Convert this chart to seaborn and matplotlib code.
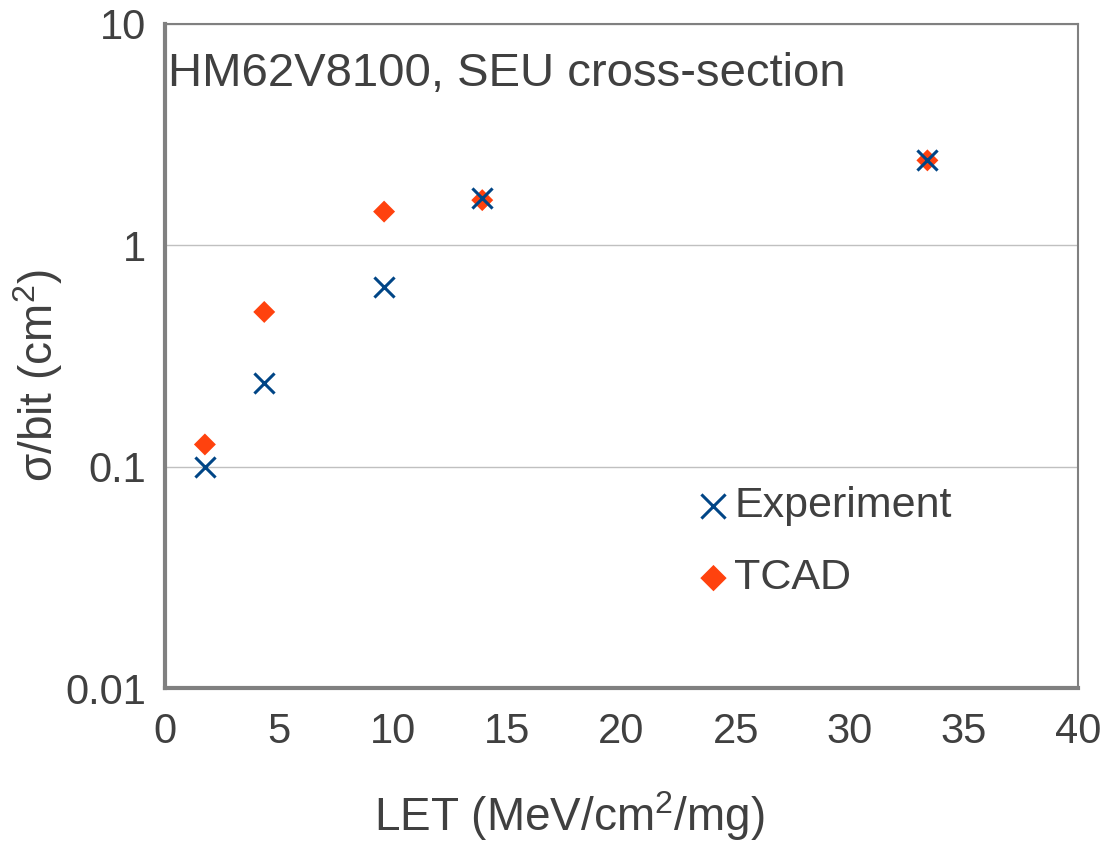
import numpy as np
import pandas as pd
import matplotlib
matplotlib.use("Agg")
import matplotlib.pyplot as plt
import matplotlib.ticker as mticker
import seaborn as sns

# Data
exp_let = [1.75, 4.35, 9.6, 13.9, 33.4]
exp_sigma = [0.100, 0.24, 0.65, 1.63, 2.42]
tcad_let = [1.75, 4.35, 9.6, 13.9, 33.4]
tcad_sigma = [0.126, 0.50, 1.42, 1.60, 2.42]
x_ticks = [0, 5, 10, 15, 20, 25, 30, 35, 40]
y_ticks = [0.01, 0.1, 1, 10]
y_ticklabels = ["0.01", "0.1", "1", "10"]

sns.set_style("white")
plt.rcParams['font.family'] = ['Liberation Sans', 'DejaVu Sans']
plt.rcParams['mathtext.fontset'] = 'custom'
plt.rcParams['mathtext.rm'] = 'Liberation Sans'
plt.rcParams['mathtext.it'] = 'Liberation Sans:italic'
plt.rcParams['mathtext.bf'] = 'Liberation Sans:bold'
text_color = "#404040"
spine_color = "#808080"

fig = plt.figure(figsize=(11.16, 8.41), dpi=100)
ax = fig.add_axes([0.1478, 0.1819, 0.8182, 0.7896])

df_exp = pd.DataFrame({"LET": exp_let, "sigma": exp_sigma})
df_tcad = pd.DataFrame({"LET": tcad_let, "sigma": tcad_sigma})

sns.scatterplot(data=df_tcad, x="LET", y="sigma", ax=ax, marker="D", s=125,
                color="#ff420e", edgecolor="none", label="TCAD", zorder=3)
sns.scatterplot(data=df_exp, x="LET", y="sigma", ax=ax, marker="x", s=210,
                color="#004586", linewidth=2.2, label="Experiment", zorder=4)

ax.set_yscale("log")
ax.set_xlim(0, 40)
ax.set_ylim(0.01, 10)
ax.set_xticks(x_ticks)
ax.set_yticks(y_ticks)
ax.yaxis.set_major_formatter(mticker.FixedFormatter(y_ticklabels))
ax.yaxis.set_minor_locator(mticker.NullLocator())

ax.grid(axis="y", which="major", color="#c0c0c0", linewidth=1.0)
ax.grid(axis="x", visible=False)
ax.set_axisbelow(True)

for side in ["left", "bottom"]:
    ax.spines[side].set_color(spine_color)
    ax.spines[side].set_linewidth(3)
for side in ["top", "right"]:
    ax.spines[side].set_color(spine_color)
    ax.spines[side].set_linewidth(1.5)

ax.tick_params(axis="both", which="major", direction="out", length=8.5, width=2.2,
               color=spine_color, labelsize=30, labelcolor=text_color)
ax.tick_params(axis="x", pad=9)
ax.tick_params(axis="y", pad=5)

ax.set_xlabel(r"LET (MeV/cm$\mathrm{^{2}}$/mg)", fontsize=33, color=text_color)
ax.set_ylabel(r"σ/bit (cm$\mathrm{^{2}}$)", fontsize=33, color=text_color)
ax.xaxis.set_label_coords(0.4425, -0.152)
ax.yaxis.set_label_coords(-0.11, 0.471)

ax.text(0.003, 0.958, "HM62V8100, SEU cross-section", transform=ax.transAxes,
        fontsize=34, color=text_color, ha="left", va="top")

handles, labels = ax.get_legend_handles_labels()
order = [labels.index("Experiment"), labels.index("TCAD")]
leg = ax.legend([handles[i] for i in order], [labels[i] for i in order],
                loc="upper left", bbox_to_anchor=(0.563, 0.33), frameon=False,
                fontsize=31, handletextpad=0.08, handlelength=0.8,
                labelspacing=0.75, borderaxespad=0, markerscale=1.2)
for t in leg.get_texts():
    t.set_color(text_color)

fig.savefig("out.png", dpi=100)
